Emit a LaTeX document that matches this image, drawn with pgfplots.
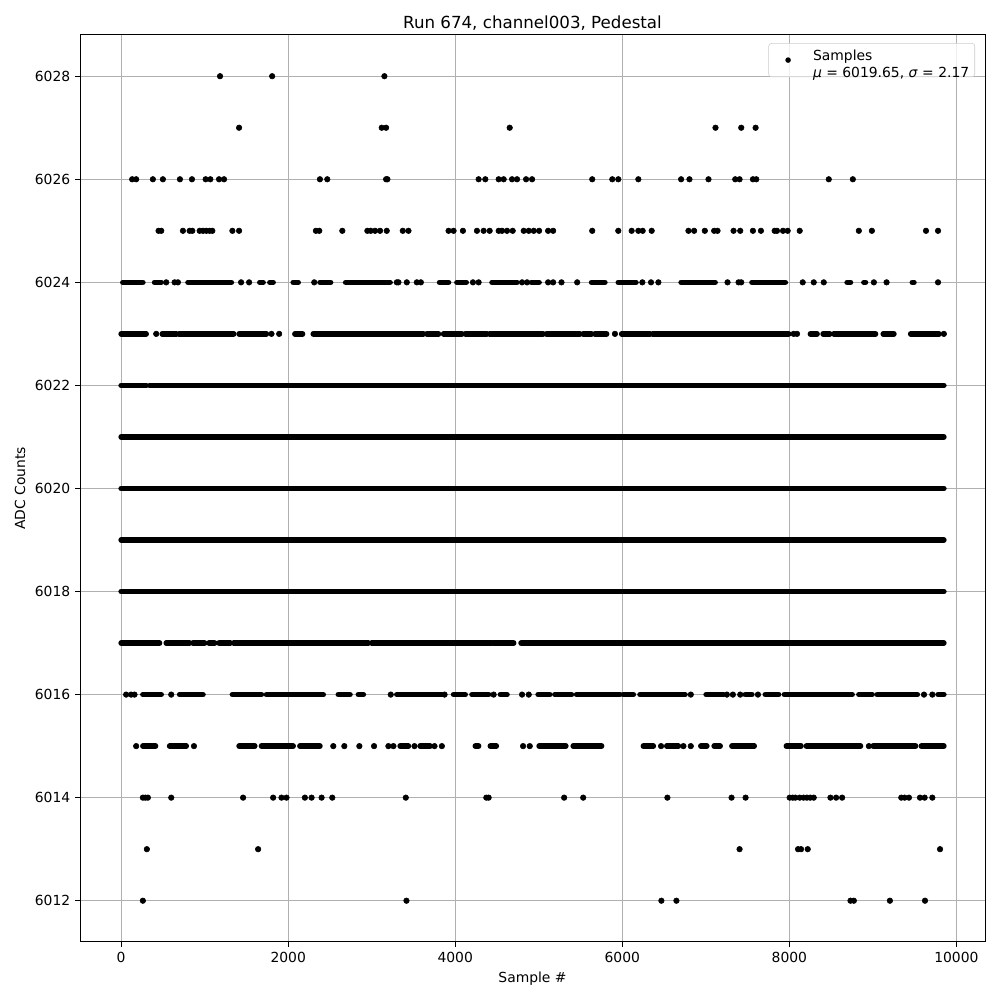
\documentclass[border=0pt]{standalone}
\usepackage{pgfplots}
\usepackage{pgfplotstable}
\pgfplotsset{compat=1.18}
\usetikzlibrary{calc}
\usepackage{fontspec}
\setmainfont{DejaVu Sans}
\definecolor{gridgray}{HTML}{B0B0B0}
\definecolor{leggray}{HTML}{CCCCCC}

% runs of consecutive samples at one level: start x, length u, level y
\pgfplotstableread{
x u v y
20 240 0 6024
400 80 0 6024
800 520 0 6024
1660 40 0 6024
1780 40 0 6024
2060 60 0 6024
2380 128 0 6024
2688 532 0 6024
3812 108 0 6024
4020 112 0 6024
4440 300 0 6024
4912 92 0 6024
5632 160 0 6024
5952 212 0 6024
6704 408 0 6024
7552 400 0 6024
8692 40 0 6024
8892 20 0 6024
9472 20 0 6024
0 300 0 6023
492 168 0 6023
692 656 0 6023
1412 328 0 6023
2080 92 0 6023
2300 1320 0 6023
3660 140 0 6023
3860 220 0 6023
4120 260 0 6023
4412 640 0 6023
5092 400 0 6023
5532 100 0 6023
5672 140 0 6023
5992 340 0 6023
6364 1628 0 6023
8252 80 0 6023
8404 80 0 6023
8532 500 0 6023
9124 128 0 6023
9452 340 0 6023
0 300 0 6022
340 9510 0 6022
0 9850 0 6021
0 9850 0 6020
0 9850 0 6019
0 9850 0 6018
0 460 0 6017
540 280 0 6017
860 140 0 6017
1052 68 0 6017
1172 136 0 6017
1348 1612 0 6017
3000 1440 0 6017
4460 240 0 6017
4788 5062 0 6017
260 220 0 6016
700 280 0 6016
1332 348 0 6016
1740 680 0 6016
2600 140 0 6016
2840 60 0 6016
3300 540 0 6016
3980 140 0 6016
4200 200 0 6016
4540 80 0 6016
4992 140 0 6016
5192 200 0 6016
5452 520 0 6016
6012 120 0 6016
6212 540 0 6016
7004 208 0 6016
7472 80 0 6016
7712 160 0 6016
7940 812 0 6016
8832 160 0 6016
9052 480 0 6016
9780 70 0 6016
260 152 0 6015
580 200 0 6015
1412 188 0 6015
1680 380 0 6015
2140 240 0 6015
3340 100 0 6015
3580 120 0 6015
4240 40 0 6015
4420 72 0 6015
5004 320 0 6015
5412 340 0 6015
6252 120 0 6015
6532 140 0 6015
6940 72 0 6015
7100 72 0 6015
7312 268 0 6015
7964 176 0 6015
8204 648 0 6015
9004 508 0 6015
9580 270 0 6015
}\runs

% isolated samples
\pgfplotstableread{
x y
1184 6028
1808 6028
3152 6028
1412 6027
3120 6027
3172 6027
4652 6027
7116 6027
7424 6027
7596 6027
132 6026
180 6026
380 6026
500 6026
704 6026
848 6026
1012 6026
1068 6026
1172 6026
1232 6026
2380 6026
2468 6026
3172 6026
3188 6026
4280 6026
4360 6026
4520 6026
4580 6026
4680 6026
4740 6026
4848 6026
4920 6026
5640 6026
5880 6026
5952 6026
6192 6026
6704 6026
6804 6026
7032 6026
7352 6026
7404 6026
7564 6026
7604 6026
8472 6026
8760 6026
448 6025
480 6025
740 6025
820 6025
852 6025
940 6025
980 6025
1020 6025
1060 6025
1092 6025
1332 6025
1412 6025
2332 6025
2372 6025
2648 6025
2948 6025
2988 6025
3040 6025
3100 6025
3180 6025
3372 6025
3440 6025
3920 6025
3980 6025
4092 6025
4260 6025
4340 6025
4412 6025
4520 6025
4560 6025
4620 6025
4688 6025
4820 6025
4880 6025
4940 6025
5004 6025
5112 6025
5172 6025
5640 6025
5952 6025
6112 6025
6192 6025
6244 6025
6352 6025
6792 6025
6860 6025
6988 6025
7100 6025
7140 6025
7332 6025
7412 6025
7564 6025
7660 6025
7824 6025
7852 6025
7924 6025
7980 6025
8124 6025
8832 6025
8988 6025
9636 6025
9780 6025
540 6024
640 6024
680 6024
1436 6024
1532 6024
2312 6024
3300 6024
3320 6024
3420 6024
3540 6024
3588 6024
4212 6024
4280 6024
4800 6024
4860 6024
5112 6024
5172 6024
5272 6024
5460 6024
6240 6024
6344 6024
6432 6024
7260 6024
7392 6024
7424 6024
8160 6024
8292 6024
8412 6024
9012 6024
9164 6024
9780 6024
420 6023
1800 6023
1892 6023
5912 6023
8052 6023
8092 6023
9850 6023
60 6016
120 6016
160 6016
600 6016
3228 6016
3872 6016
4460 6016
4800 6016
4880 6016
6820 6016
7252 6016
7324 6016
7412 6016
7624 6016
9612 6016
9712 6016
180 6015
872 6015
2540 6015
2672 6015
2852 6015
3028 6015
3200 6015
3260 6015
3512 6015
3752 6015
3840 6015
4812 6015
4892 6015
6464 6015
6732 6015
6820 6015
8952 6015
260 6014
290 6014
320 6014
600 6014
1460 6014
1820 6014
1920 6014
1980 6014
2200 6014
2280 6014
2400 6014
2528 6014
3408 6014
4372 6014
4400 6014
5304 6014
5532 6014
6540 6014
7308 6014
7476 6014
8004 6014
8040 6014
8072 6014
8124 6014
8170 6014
8210 6014
8250 6014
8292 6014
8492 6014
8560 6014
8632 6014
9340 6014
9380 6014
9432 6014
9564 6014
9620 6014
9712 6014
308 6013
1640 6013
7404 6013
8104 6013
8140 6013
8220 6013
9804 6013
260 6012
3416 6012
6468 6012
6648 6012
8732 6012
8772 6012
9204 6012
9624 6012
}\singles

\begin{document}
\begin{tikzpicture}
\begin{axis}[
  scale only axis, width=651.6pt, height=653pt,
  xmin=-492.5, xmax=10342.5, ymin=6011.2, ymax=6028.8,
  xtick={0,2000,...,10000}, ytick={6012,6014,...,6028},
  scaled ticks=false,
  /pgf/number format/1000 sep={},
  /pgf/number format/assume math mode=true,
  tick align=outside, xtick pos=bottom, ytick pos=left,
  major tick length=3.5pt,
  every tick/.style={black, line width=0.7pt},
  grid=major, grid style={color=gridgray, line width=0.7pt},
  axis line style={line width=0.7pt},
  title={Run 674, channel003, Pedestal},
  title style={font=\fontsize{12}{14}\selectfont, yshift=-6.5pt},
  xlabel={Sample \#}, ylabel={ADC Counts},
  tick label style={font=\fontsize{10}{12}\selectfont},
  label style={font=\fontsize{10}{12}\selectfont},
  legend style={at={(0.989,0.991)}, anchor=north east, draw=leggray, rounded corners=2pt,
    fill=white, fill opacity=0.8, text opacity=1, font=\fontsize{10}{12}\selectfont,
    inner xsep=4pt, inner ysep=4pt, column sep=8pt, nodes={inner sep=0pt}},
  legend cell align=left,
]
\addlegendimage{legend image code/.code={\path[draw=none, fill=none] (0pt,0pt) rectangle (20pt,0pt); \fill[black, draw=none, fill opacity=1, opacity=1] (10pt,0pt) circle (2pt);}}
\addlegendentry{\begin{tabular}{@{}l@{}}Samples\\\textit{μ} = 6019.65, \textit{σ} = 2.17\end{tabular}}
\addplot[forget plot, black, no marks, line width=4pt, line cap=round,
  quiver={u=\thisrow{u}, v=\thisrow{v}}] table[x=x, y=y] {\runs};
\addplot[forget plot, only marks, mark=*, mark size=2pt, black] table[x=x, y=y] {\singles};
\end{axis}
\pgfresetboundingbox
\path ($(current axis.south west)+(-57.6pt,-41.76pt)$) rectangle ($(current axis.north east)+(10.8pt,25.2pt)$);
\end{tikzpicture}
\end{document}
